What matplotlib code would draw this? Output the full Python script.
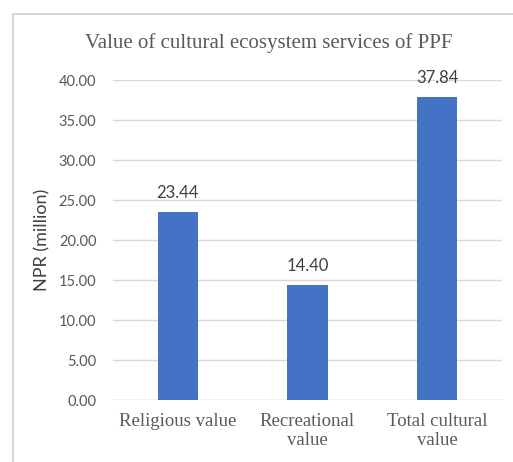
import matplotlib.pyplot as plt
from matplotlib.patches import Rectangle

# ---------- DATA ----------

categories = ["Religious value", "Recreational\nvalue", "Total cultural\nvalue"]
values = [23.44, 14.40, 37.84]
y_ticks = [0, 5, 10, 15, 20, 25, 30, 35, 40]

# ---------- PLOTTING ----------

W, H = 513, 462
fig = plt.figure(figsize=(W / 100, H / 100), dpi=100)
fig.patch.set_facecolor("white")

# chart frame, like an Excel chart area
fig.patches.append(Rectangle((13 / W, -0.1), 1, 1.1 - 14 / H, transform=fig.transFigure,
                             fill=False, edgecolor="#d0d0d0", linewidth=1.2))

ax = fig.add_axes([113 / W, 1 - 400 / H, (502 - 113) / W, (400 - 80) / H])

x = range(len(categories))
bars = ax.bar(x, values, width=0.31, color="#4472C4", zorder=3)

for b, v in zip(bars, values):
    ax.annotate(f"{v:.2f}", (b.get_x() + b.get_width() / 2, v),
                xytext=(0, 8), textcoords="offset points",
                ha="center", va="bottom", fontsize=12, family="Lato", color="#404040")

ax.set_ylim(0, 40)
ax.set_xlim(-0.5, 2.5)
ax.set_yticks(y_ticks)
ax.set_yticklabels([f"{t:.2f}" for t in y_ticks], family="Lato", fontsize=10.5, color="#595959")
ax.set_xticks(list(x))
ax.set_xticklabels(categories, family="Liberation Serif", fontsize=13.5, color="#595959")
ax.tick_params(length=0, pad=12)
ax.tick_params(axis="x", pad=9)
ax.grid(axis="y", color="#d9d9d9", linewidth=1, zorder=0)
for s in ax.spines.values():
    s.set_visible(False)
ax.axhline(0, color="#d0d0d0", linewidth=1, zorder=2)

ax.set_ylabel("NPR (million)", family="Lato", fontsize=13, color="#404040", labelpad=6)
fig.text(0.524, 1 - 43 / H, "Value of cultural ecosystem services of PPF",
         ha="center", va="center", family="Liberation Serif", fontsize=15, color="#595959")

fig.savefig("out.png", dpi=100)
